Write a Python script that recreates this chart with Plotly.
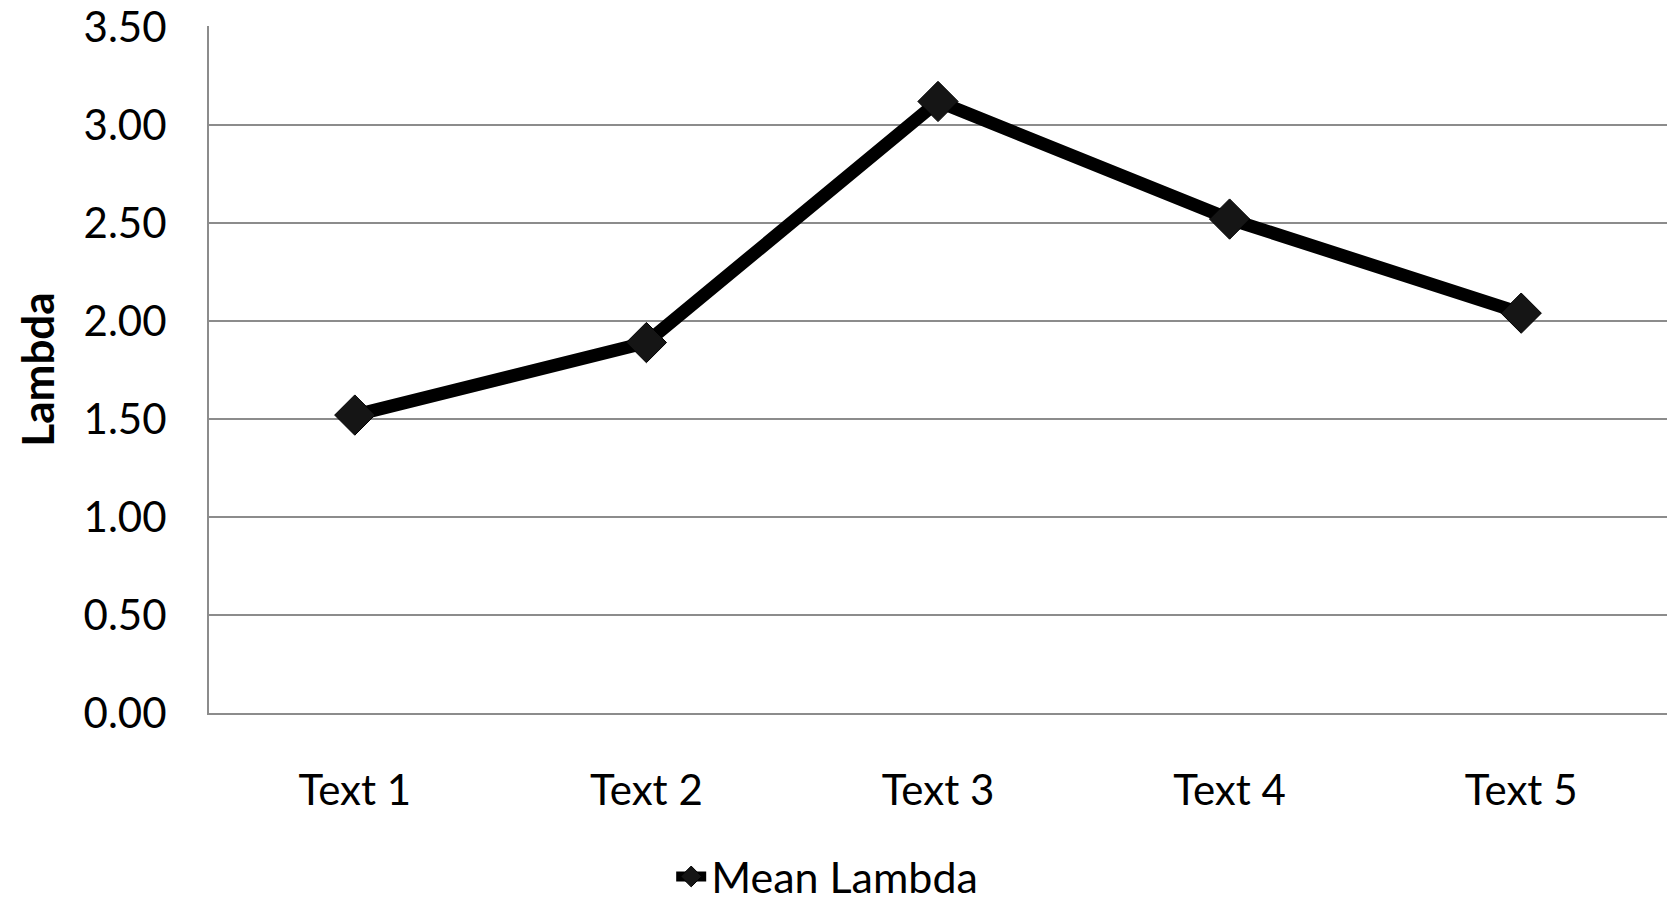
import plotly.graph_objects as go

categories = ["Text 1", "Text 2", "Text 3", "Text 4", "Text 5"]
mean_lambda = [1.52, 1.89, 3.12, 2.52, 2.04]
series_name = "Mean Lambda"
y_title = "Lambda"

FONT = "Lato, 'Open Sans', sans-serif"
GRID = "#8c8c8c"

fig = go.Figure()
fig.add_trace(go.Scatter(
    x=categories, y=mean_lambda, name=series_name,
    mode="lines+markers",
    line=dict(color="#000000", width=13),
    marker=dict(symbol="diamond", size=31, color="#151515",
                line=dict(color="#000000", width=1)),
))

fig.update_layout(
    width=1675, height=900,
    paper_bgcolor="white", plot_bgcolor="white",
    margin=dict(l=201, r=16, t=18, b=195, autoexpand=False),
    font=dict(family=FONT, size=42, color="#000000"),
    showlegend=True,
    legend=dict(orientation="h", x=0.424, xanchor="center", y=-0.238, yanchor="middle",
                font=dict(size=43), bgcolor="rgba(0,0,0,0)"),
)
fig.update_xaxes(
    type="category", range=[-0.5, 4.5], automargin=False,
    showgrid=False, showline=True, linecolor=GRID, linewidth=2,
    ticks="", ticklabelstandoff=40, tickfont=dict(size=42),
)
fig.update_yaxes(
    range=[0, 3.505], dtick=0.5, tick0=0, tickformat=".2f", automargin=False,
    ticklabeloverflow="allow",
    showgrid=True, gridcolor=GRID, gridwidth=1.5,
    showline=True, linecolor=GRID, linewidth=2,
    zeroline=False, ticks="", ticklabelstandoff=32, tickfont=dict(size=42),
    title=dict(text="<b>" + y_title + "</b>", font=dict(size=44), standoff=15),
)

fig.write_html("out.html")
